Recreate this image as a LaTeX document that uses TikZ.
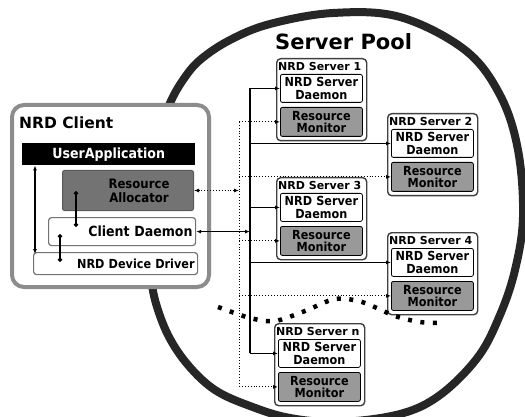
\documentclass[tikz,border=0pt]{standalone}
\usepackage{fontspec}
\setmainfont{DejaVu Sans}
\newfontfamily\condfont{DejaVu Sans Condensed}
\usetikzlibrary{arrows.meta}
\begin{document}
\begin{tikzpicture}[x=1pt,y=-1pt,
  blob/.style={draw=black!85, line width=8pt},
  clientbox/.style={draw=black!45, line width=4pt, rounded corners=12pt, fill=white},
  outerbox/.style={draw=black!75, line width=1.4pt, rounded corners=4pt, fill=white, anchor=north west, minimum width=90pt, minimum height=82pt, inner sep=0pt},
  innerbase/.style={anchor=north west, inner sep=0pt, align=center, font=\condfont\bfseries\fontsize{12.5}{12.5}\selectfont},
  daemonbox/.style={innerbase, draw=black, line width=0.8pt, rounded corners=2pt, fill=white, minimum width=82pt, minimum height=28pt, text width=82pt},
  rmbox/.style={innerbase, draw=black, line width=0.8pt, rounded corners=2pt, fill=black!40, minimum width=82pt, minimum height=29pt, text width=82pt},
  srvlabel/.style={anchor=west, inner sep=0pt, font=\bfseries\fontsize{11}{12}\selectfont},
  cbox/.style={anchor=north west, inner sep=0pt, font=\condfont\bfseries\fontsize{14}{14}\selectfont},
  bus/.style={draw=black, line width=1.2pt},
  dbus/.style={draw=black, line width=0.9pt, dotted},
  arr/.style={-{Latex[length=5pt,width=4pt]}},
  darr/.style={{Latex[length=5pt,width=4pt]}-{Latex[length=5pt,width=4pt]}},
  dotend/.style={{Circle[length=4.5pt]}-{Circle[length=4.5pt]}, line width=1.1pt},
  wavy/.style={draw=black, line width=4.5pt, dash pattern=on 4pt off 8.5pt}
]
\useasboundingbox (0,0) rectangle (525,417);
\fill[white] (0,0) rectangle (525,417);

% Server pool outline
\draw[blob] plot[smooth, tension=0.6] coordinates {(160,130) (170,103) (183,80) (200,60) (230,40) (270,24) (333,13) (400,17) (465,50) (500,95) (518,150) (523,217) (515,270) (500,315) (478,357) (440,395) (400,414) (340,422) (290,418) (250,406) (215,390) (188,365) (168,335) (155,300) (150,270)};
\node[anchor=west, inner sep=0pt, font=\bfseries\fontsize{21}{24}\selectfont] (pool) at (275,42) {Server Pool};

% Client
\node[clientbox, anchor=north west, minimum width=197pt, minimum height=182pt] (client) at (10,103) {};
\node[anchor=west, inner sep=0pt, font=\bfseries\fontsize{15.5}{18}\selectfont] (clab) at (19,123) {NRD Client};
\node[cbox, fill=black, text=white, minimum width=173pt, minimum height=22pt, align=center] (ua) at (22,143) {UserApplication};
\node[cbox, fill=black!55, draw=black!65, line width=1pt, rounded corners=2pt, minimum width=131pt, minimum height=40pt, text width=131pt, align=center, font=\condfont\bfseries\fontsize{13}{14}\selectfont] (al) at (62,170) {\hspace*{22pt}Resource\\\hspace*{22pt}Allocator};
\node[cbox, draw=black!55, line width=1.2pt, fill=white, rounded corners=3pt, minimum width=147pt, minimum height=28pt, text width=141pt, align=right] (cd) at (48,217) {Client Daemon};
\node[cbox, draw=black!55, line width=1.2pt, fill=white, rounded corners=3pt, minimum width=164pt, minimum height=22pt, text width=158pt, align=right, font=\condfont\bfseries\fontsize{12.5}{13}\selectfont] (dd) at (33,252) {NRD Device Driver};
\coordinate (vx) at (35,0);
\draw[darr, line width=1.2pt] (vx |- ua.south) -- ([yshift=-2pt]vx |- dd.north);
\draw[dotend] (76,191) -- (76,227);
\draw[dotend] (60,234) -- (60,262);

% Servers
\foreach \n/\x/\y in {1/276/58, 2/387/113, 3/276/177, 4/387/232, n/274/323}{
  \node[outerbox] (s\n) at (\x,\y) {};
  \node[srvlabel] (s\n l) at (\x+2,\y+8) {NRD Server \n};
  \node[daemonbox] (s\n d) at (\x+4,\y+16) {NRD Server\\Daemon};
  \node[rmbox] (s\n r) at (\x+4,\y+49) {Resource\\Monitor};
}

% Solid bus
\coordinate (bx) at (250,0);
\coordinate (dx) at (239,0);
\draw[bus] (s1d.west -| bx) -- (snd.west -| bx);
\foreach \n in {1,2,3,4,n}{
  \draw[bus, arr] (s\n d.west -| bx) -- (s\n d.west);
}
\draw[bus, darr] (cd.east) -- (cd.east -| bx);

% Dotted bus
\draw[dbus] (s1r.west -| dx) -- (snr.west -| dx);
\foreach \n in {1,2,3,4,n}{
  \draw[dbus, arr] (s\n r.west -| dx) -- (s\n r.west);
}
\draw[dbus, darr] (al.east) -- (al.east -| dx);

% Wavy dotted separator
\draw[wavy] plot[smooth] coordinates {(218,307) (250,318) (275,321) (305,311) (335,299) (362,302) (395,316) (420,322) (442,323)};
\end{tikzpicture}
\end{document}
